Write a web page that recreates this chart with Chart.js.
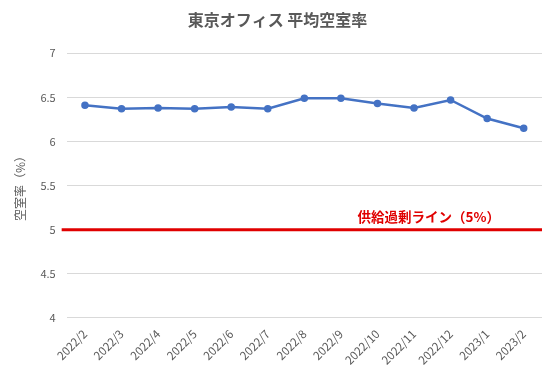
<!DOCTYPE html>
<html lang="ja">
<head>
    <meta charset="UTF-8">
    <title>東京オフィス 平均空室率</title>
    <style>
        body {
            margin: 0;
            background-color: #fff;
        }
        .chart-container {
            position: relative;
            width: 550px;
            height: 368px;
        }
    </style>
</head>
<body>
    <div class="chart-container">
        <canvas id="vacancyChart"></canvas>
    </div>

    <script src="https://cdn.jsdelivr.net/npm/chart.js@4.4.1/dist/chart.umd.min.js"></script>
    <script>
    // データ
    const months = ['2022/2', '2022/3', '2022/4', '2022/5', '2022/6', '2022/7', '2022/8',
                    '2022/9', '2022/10', '2022/11', '2022/12', '2023/1', '2023/2'];
    const vacancyRate = [6.41, 6.37, 6.38, 6.37, 6.39, 6.37, 6.49, 6.49, 6.43, 6.38, 6.47, 6.26, 6.15];
    const supplyLine = 5;
    const supplyLabel = '供給過剰ライン（5%）';
    const yMin = 4, yMax = 7, yStep = 0.5;

    const jpFont = '"Noto Sans CJK JP", "Noto Sans", sans-serif';

    // 供給過剰ライン（赤線＋ラベル）
    const supplyLinePlugin = {
        id: 'supplyLine',
        afterDatasetsDraw(chart) {
            const { ctx, chartArea, scales } = chart;
            const y = scales.y.getPixelForValue(supplyLine);
            ctx.save();
            ctx.strokeStyle = '#E00000';
            ctx.lineWidth = 3;
            ctx.beginPath();
            ctx.moveTo(chartArea.left - 5, y);
            ctx.lineTo(chartArea.right, y);
            ctx.stroke();
            ctx.fillStyle = '#E00000';
            ctx.font = 'bold 13.5px ' + jpFont;
            ctx.textAlign = 'right';
            ctx.textBaseline = 'bottom';
            ctx.fillText(supplyLabel, chartArea.right - 42, y - 6);
            ctx.restore();
        }
    };

    new Chart(document.getElementById('vacancyChart'), {
        type: 'line',
        data: {
            labels: months,
            datasets: [{
                label: '平均空室率',
                data: vacancyRate,
                borderColor: '#4472C4',
                backgroundColor: '#4472C4',
                borderWidth: 2.5,
                pointRadius: 2.5,
                pointHoverRadius: 2.5,
                tension: 0
            }]
        },
        options: {
            responsive: true,
            maintainAspectRatio: false,
            animation: false,
            layout: { padding: { left: 13, right: 8, top: 0, bottom: 0 } },
            plugins: {
                legend: { display: false },
                tooltip: { enabled: false },
                title: {
                    display: true,
                    text: '東京オフィス 平均空室率',
                    color: '#595959',
                    font: { family: jpFont, size: 16, weight: 'bold' },
                    padding: { top: 10, bottom: 24 }
                }
            },
            scales: {
                x: {
                    offset: true,
                    grid: { display: false },
                    border: { display: false },
                    ticks: {
                        color: '#595959',
                        font: { family: jpFont, size: 11.5 },
                        minRotation: 45,
                        maxRotation: 45,
                        autoSkip: false,
                        padding: 1
                    }
                },
                y: {
                    min: yMin,
                    max: yMax,
                    grid: { color: '#D9D9D9', drawTicks: false },
                    border: { display: false },
                    ticks: {
                        stepSize: yStep,
                        color: '#595959',
                        font: { family: jpFont, size: 11 },
                        padding: 11,
                        callback: v => String(v)
                    },
                    title: {
                        display: true,
                        text: '空室率（%）',
                        color: '#595959',
                        font: { family: jpFont, size: 12 },
                        padding: { top: 0, bottom: 2 }
                    }
                }
            }
        },
        plugins: [supplyLinePlugin]
    });
    </script>
</body>
</html>
